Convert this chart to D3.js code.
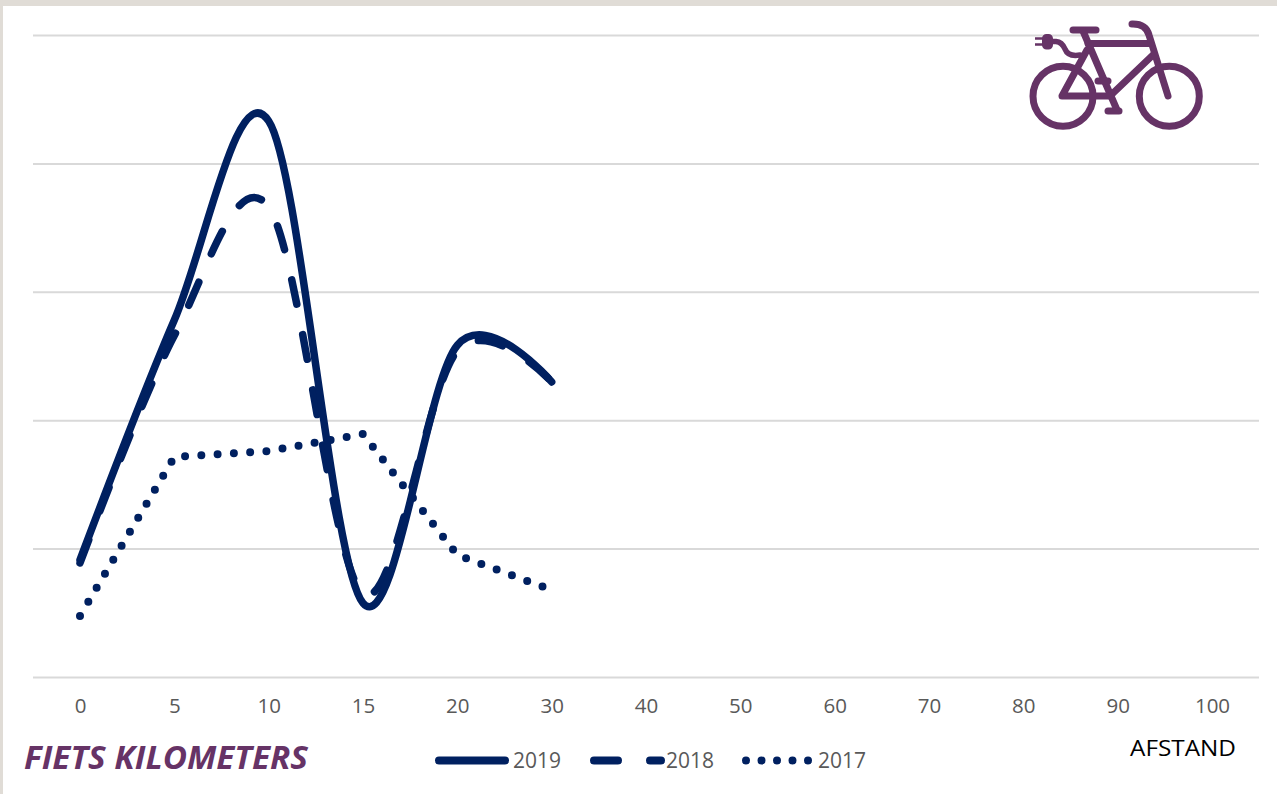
<!DOCTYPE html>
<html><head><meta charset="utf-8">
<script src="https://cdnjs.cloudflare.com/ajax/libs/d3/7.8.5/d3.min.js"></script>
<style>html,body{margin:0;padding:0;background:#fff;overflow:hidden}svg{display:block}</style>
</head><body><svg id="c" width="1277" height="794"></svg>
<script>
const categories = ["0","5","10","15","20","30","40","50","60","70","80","90","100"];
const valueTicks = [0,5,10,15,20,25];
const values2019 = [4.56,13.9,21.65,2.88,12.92,11.49];
const values2018 = [4.44,13.3,18.3,3.25,12.7,11.5];
const values2017 = [2.38,8.57,8.8,9.46,4.75,3.39];
const seriesNames = ["2019","2018","2017"];

const NAVY="#002060", PURPLE="#663366", GRID="#d9d9d9", TXT="#595959";
const FONT="'Open Sans','Noto Sans',sans-serif";
const svg=d3.select("#c");
svg.append("rect").attr("width",1277).attr("height",6).attr("fill","#e0dcd6");
svg.append("rect").attr("width",3).attr("height",794).attr("fill","#e0dcd6");

const x=d3.scalePoint().domain(categories).range([80,1212]);
const y=d3.scaleLinear().domain([0,25]).range([677,35]);

const grid=svg.append("g").attr("transform","translate(33,0)")
  .call(d3.axisLeft(y).tickValues(valueTicks).tickSize(-1226).tickFormat(""));
grid.select(".domain").remove();
grid.selectAll("line").attr("stroke",GRID).attr("stroke-width",2);

const ax=svg.append("g").attr("transform","translate(0,677)")
  .call(d3.axisBottom(x).tickSize(0).tickPadding(21));
ax.select(".domain").remove();
ax.selectAll("text").attr("font-family",FONT).attr("font-size",20.5).attr("fill",TXT);

const smooth=d3.line().x((d,i)=>x(categories[i])).y(d=>y(d)).curve(d3.curveCardinal.tension(0));
const straight=d3.line().x((d,i)=>x(categories[i])).y(d=>y(d));
const dashStyle="25 31";
const dotStyle="0 16.3";
svg.append("path").attr("d",straight(values2017)).attr("fill","none").attr("stroke",NAVY)
  .attr("stroke-width",8).attr("stroke-linecap","round").attr("stroke-dasharray",dotStyle);
svg.append("path").attr("d",smooth(values2018)).attr("fill","none").attr("stroke",NAVY)
  .attr("stroke-width",7.5).attr("stroke-linecap","round").attr("stroke-dasharray",dashStyle);
svg.append("path").attr("d",smooth(values2019)).attr("fill","none").attr("stroke",NAVY)
  .attr("stroke-width",7.5).attr("stroke-linecap","round");

// legend
const legY=760.5;
const legend=[{x0:439,x1:505,tx:513,dash:null},{x0:594,x1:661,tx:666,dash:"24 32"},{x0:746,x1:811,tx:818,dash:"0 15.5"}];
legend.forEach((l,i)=>{
  const ln=svg.append("line").attr("x1",l.x0).attr("x2",l.x1).attr("y1",legY).attr("y2",legY)
    .attr("stroke",NAVY).attr("stroke-width",8).attr("stroke-linecap","round");
  if(l.dash) ln.attr("stroke-dasharray",l.dash);
  svg.append("text").attr("x",l.tx).attr("y",legY+7.5).attr("font-family",FONT).attr("font-size",21).attr("fill",TXT).text(seriesNames[i]);
});

svg.append("text").attr("x",24).attr("y",769).attr("font-family","'Open Sans',sans-serif").attr("font-size",33)
  .attr("font-weight",700).attr("font-style","italic").attr("fill",PURPLE).attr("textLength",284).attr("lengthAdjust","spacingAndGlyphs").text("FIETS KILOMETERS");
svg.append("text").attr("x",1130).attr("y",756).attr("font-family",FONT).attr("font-size",22).attr("fill","#000").attr("textLength",106).attr("lengthAdjust","spacingAndGlyphs").text("AFSTAND");

// bicycle icon
const b=svg.append("g").attr("fill","none").attr("stroke",PURPLE).attr("stroke-width",7).attr("stroke-linecap","round").attr("stroke-linejoin","round");
b.append("circle").attr("cx",1063).attr("cy",96.3).attr("r",30);
b.append("circle").attr("cx",1169.3).attr("cy",96.3).attr("r",30);
b.append("path").attr("d","M1073 30H1096");
b.append("path").attr("d","M1083 31L1117 110");
b.append("path").attr("d","M1108 111H1119");
b.append("path").attr("d","M1098 81H1108");
b.append("path").attr("d","M1088 43.5H1150");
b.append("path").attr("d","M1154 54L1110 96H1062L1087 50");
b.append("path").attr("d","M1168 96L1149 35Q1146 24 1133 24H1132");
b.append("path").attr("d","M1052 41.5H1056Q1062 42 1065 49Q1068 57 1080 55").attr("stroke-width",5.5);
b.append("rect").attr("x",1043.5).attr("y",35.5).attr("width",8).attr("height",12.5).attr("rx",3).attr("fill",PURPLE).attr("stroke-width",3);
b.append("path").attr("d","M1035 38.5H1043M1035 44.5H1043").attr("stroke-width",2.5).attr("stroke-linecap","butt");
</script></body></html>
